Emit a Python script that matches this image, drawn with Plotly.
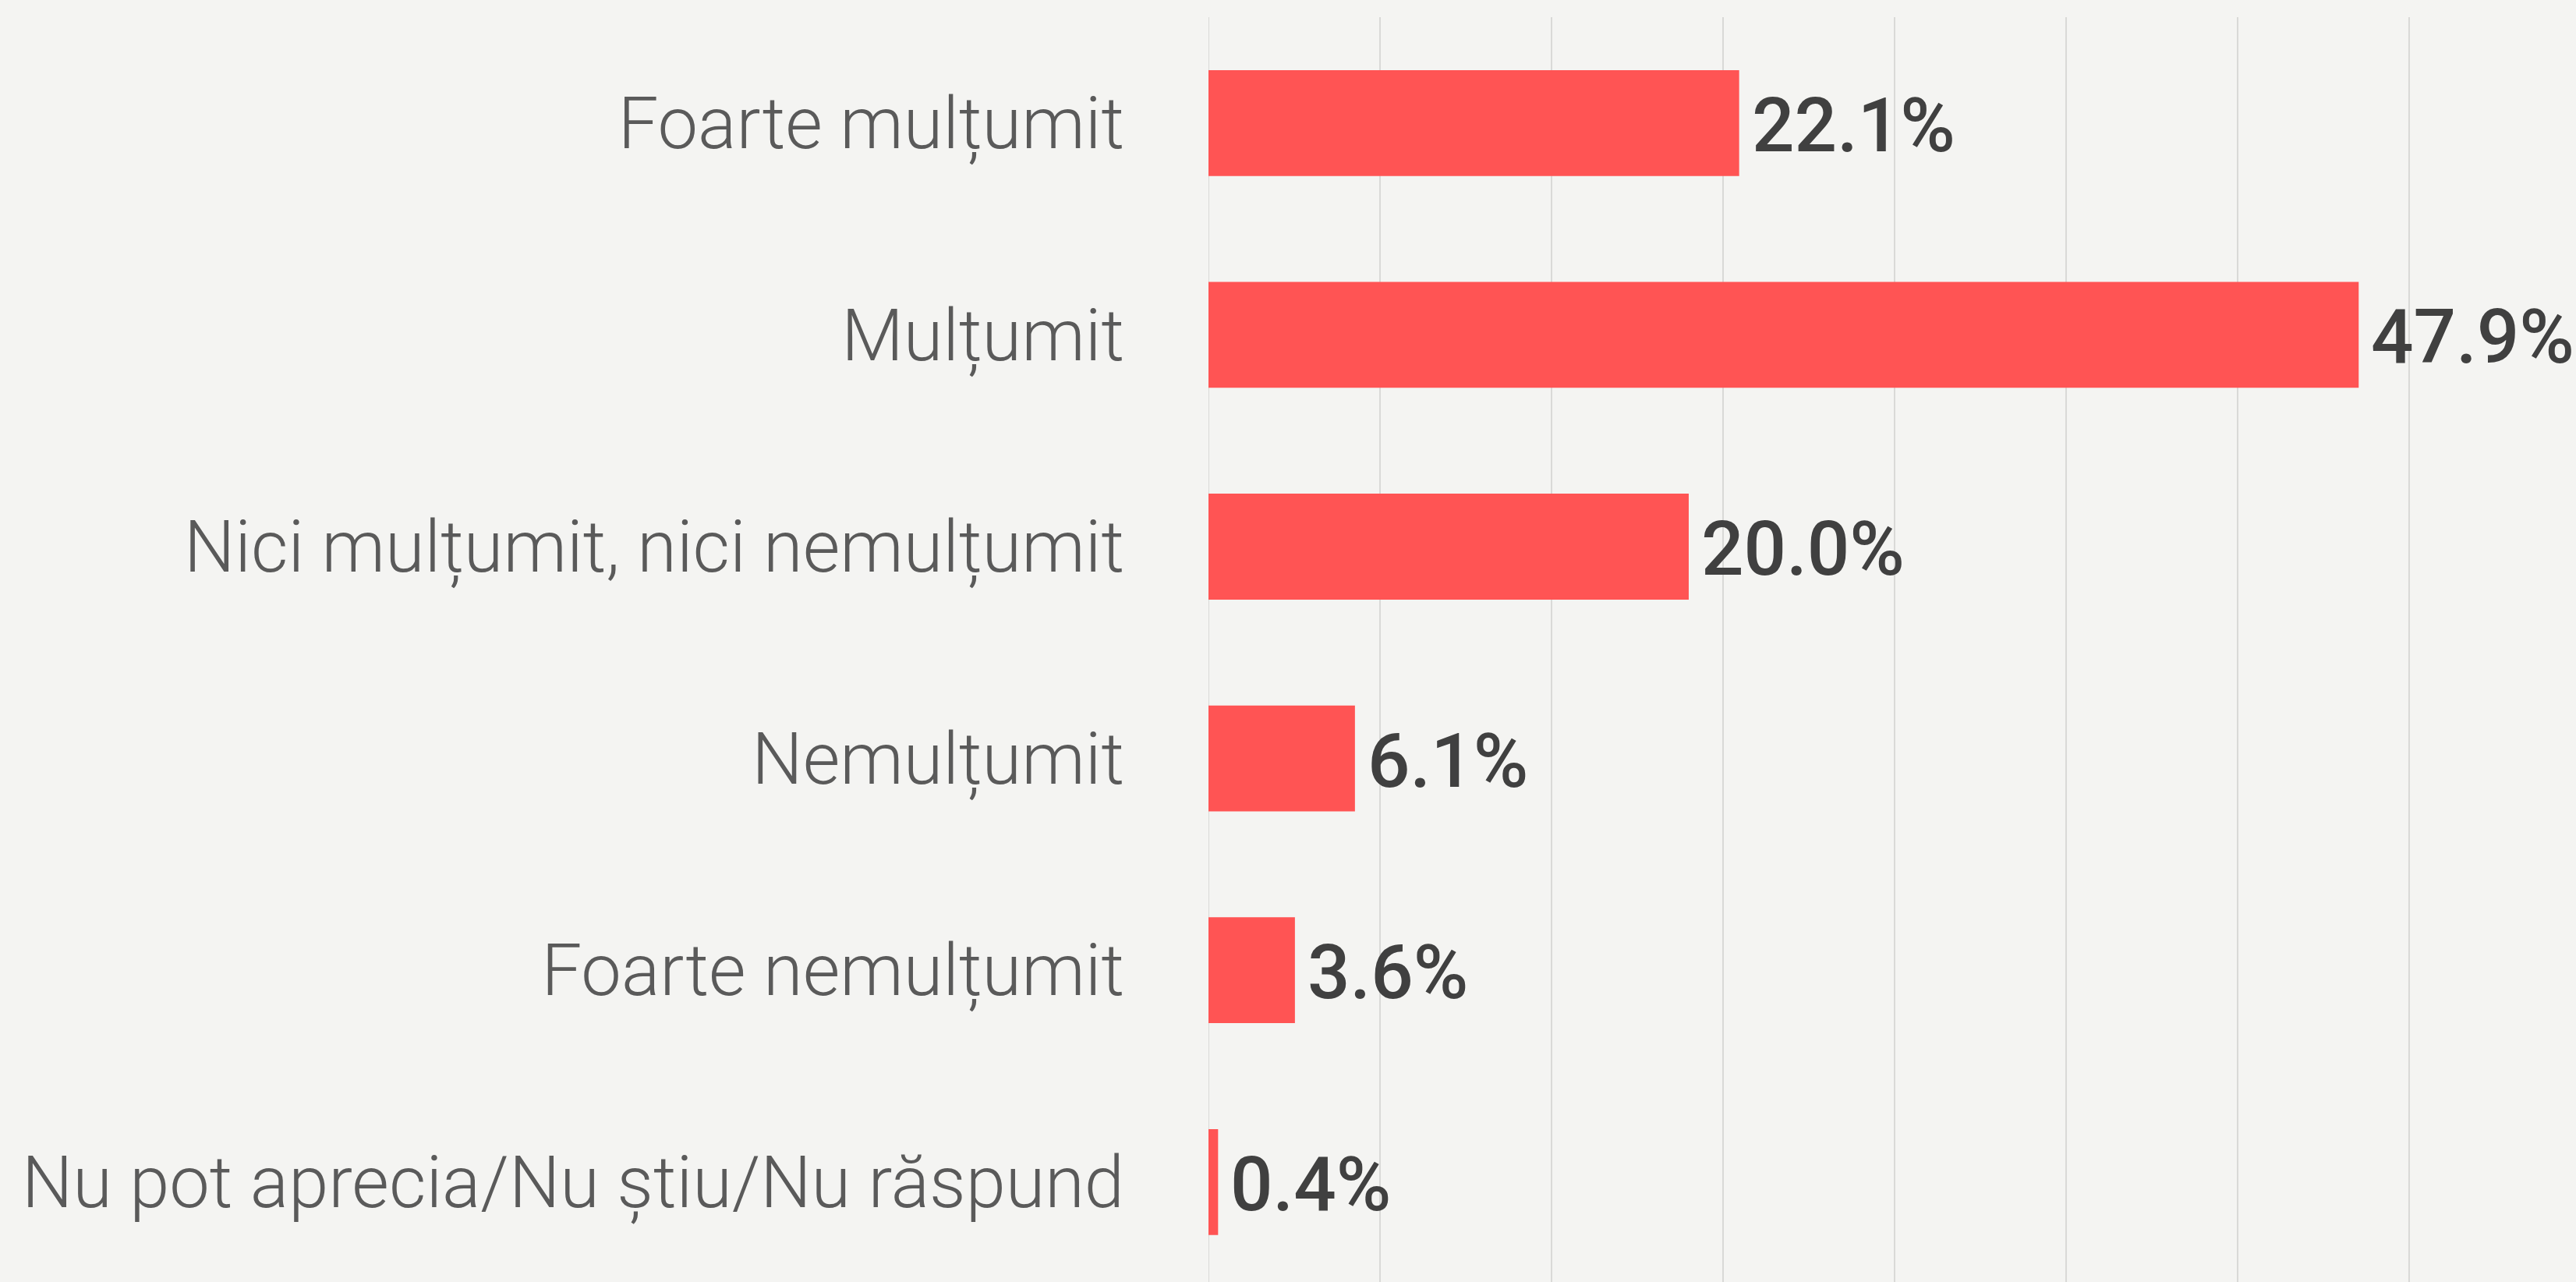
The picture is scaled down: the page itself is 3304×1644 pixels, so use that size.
import plotly.graph_objects as go

# Survey answers and their shares (%)
categories = [
    "Foarte mulțumit",
    "Mulțumit",
    "Nici mulțumit, nici nemulțumit",
    "Nemulțumit",
    "Foarte nemulțumit",
    "Nu pot aprecia/Nu știu/Nu răspund",
]
shares = [22.1, 47.9, 20.0, 6.1, 3.6, 0.4]
value_labels = ["22.1%", "47.9%", "20.0%", "6.1%", "3.6%", "0.4%"]

BAR_COLOR = "#ff5454"
BG = "#f4f4f2"
GRID = "#d9d9d7"
LABEL_COLOR = "#5a5a5a"
VALUE_COLOR = "#404040"
FONT = "Roboto"

fig = go.Figure(
    go.Bar(
        x=shares,
        y=categories,
        orientation="h",
        marker=dict(color=BAR_COLOR, line=dict(width=0)),
        hoverinfo="skip",
    )
)

# Value labels just past the end of each bar
for cat, val, lab in zip(categories, shares, value_labels):
    fig.add_annotation(
        x=val, y=cat, xref="x", yref="y",
        text=lab, showarrow=False,
        xanchor="left", yanchor="middle",
        xshift=14, yshift=-3,
        font=dict(family=FONT, size=96, color=VALUE_COLOR, weight=500),
    )

# Baseline gridline at zero (the edge gridline is not drawn by the axis itself)
fig.add_shape(
    type="line", xref="x", yref="paper",
    x0=0, x1=0, y0=0, y1=1,
    line=dict(color=GRID, width=2), layer="below",
)

grid_step = 50 / 7
fig.update_layout(
    width=3304, height=1644,
    margin=dict(l=1550, r=0, t=22, b=0, pad=0),
    paper_bgcolor=BG, plot_bgcolor=BG,
    bargap=0.5,
    showlegend=False,
    font=dict(family=FONT),
)
fig.update_xaxes(
    range=[0, 56.95],
    tickvals=[grid_step * i for i in range(8)],
    showticklabels=False,
    showgrid=True, gridcolor=GRID, gridwidth=2,
    zeroline=False, showline=False, ticks="",
)
fig.update_yaxes(
    type="category",
    range=[5.472, -0.5],
    showgrid=False, zeroline=False, showline=False, ticks="",
    ticklabelstandoff=107,
    tickfont=dict(family=FONT, size=92, color=LABEL_COLOR, weight=300),
)

fig.write_html("out.html")
